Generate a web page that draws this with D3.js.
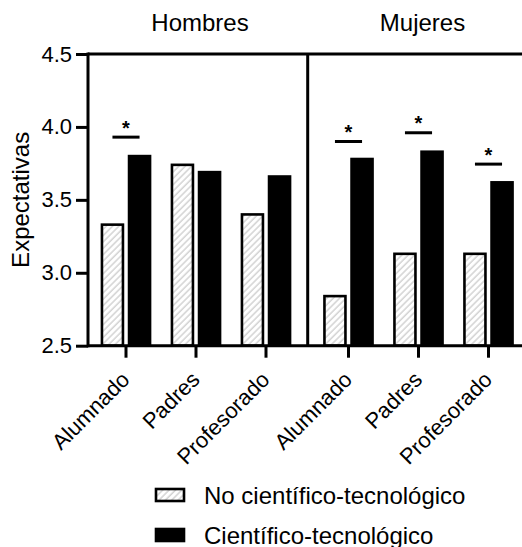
<!doctype html>
<html>
  <head>
    <meta charset="utf-8">
    <title>Expectativas</title>
    <script src="https://cdnjs.cloudflare.com/ajax/libs/d3/7.8.5/d3.min.js"></script>
    <style>
      body { margin: 0; background: #fff; }
      svg { display: block; font-family: Arial, "Liberation Sans", sans-serif; }
    </style>
  </head>
  <body>
    <div id="chart"></div>
    <script>
      // data
      const panels = ['Hombres', 'Mujeres'];
      const categories = ['Alumnado', 'Padres', 'Profesorado'];
      const noCientifico = [[3.33, 3.74, 3.40], [2.84, 3.13, 3.13]];
      const cientifico = [[3.80, 3.69, 3.66], [3.78, 3.83, 3.62]];
      // height of the "*" bar, null = no significant difference
      const sigLevels = [[3.93, null, null], [3.90, 3.96, 3.745]];
      const yTicks = [2.5, 3.0, 3.5, 4.0, 4.5];
      const seriesNames = ['No científico-tecnológico', 'Científico-tecnológico'];

      const width = 522, height = 547;
      const axisX = 88, divX = 307.7;
      const barW = 21, barGap = 3.5, stroke = 2.6;

      const svg = d3.select('#chart').append('svg')
        .attr('width', width)
        .attr('height', height);

      // hatch for the light bars
      svg.append('defs').append('pattern')
        .attr('id', 'hatch')
        .attr('patternUnits', 'userSpaceOnUse')
        .attr('width', 4.5)
        .attr('height', 4.5)
        .attr('patternTransform', 'rotate(45)')
        .call(p => {
          p.append('rect').attr('width', 4.5).attr('height', 4.5).attr('fill', '#fff');
          p.append('line').attr('x1', 1).attr('x2', 1).attr('y1', 0).attr('y2', 4.5)
            .attr('stroke', '#c8c8c8').attr('stroke-width', 1.2);
        });

      const y = d3.scaleLinear().domain([2.5, 4.5]).range([345.7, 54]);

      // one band scale per panel
      const xPanel = [
        d3.scaleBand().domain(categories).range([91, 301]),
        d3.scaleBand().domain(categories).range([313.5, 523.5])
      ];

      panels.forEach((name, pi) => {
        const x = xPanel[pi];
        const g = svg.append('g');
        const rows = categories.map((c, i) => ({
          cat: c,
          cx: x(c) + x.bandwidth() / 2,
          no: noCientifico[pi][i],
          si: cientifico[pi][i],
          sig: sigLevels[pi][i]
        }));

        g.selectAll('rect.no').data(rows).join('rect')
          .attr('class', 'no')
          .attr('x', d => d.cx - barGap / 2 - stroke / 2 - barW)
          .attr('y', d => y(d.no))
          .attr('width', barW)
          .attr('height', d => y(2.5) - y(d.no))
          .attr('fill', 'url(#hatch)')
          .attr('stroke', '#000')
          .attr('stroke-width', stroke);

        g.selectAll('rect.si').data(rows).join('rect')
          .attr('class', 'si')
          .attr('x', d => d.cx + barGap / 2 + stroke / 2)
          .attr('y', d => y(d.si))
          .attr('width', barW)
          .attr('height', d => y(2.5) - y(d.si))
          .attr('fill', '#000')
          .attr('stroke', '#000')
          .attr('stroke-width', stroke);

        const sig = rows.filter(d => d.sig != null);
        g.selectAll('line.sig').data(sig).join('line')
          .attr('x1', d => d.cx - barGap / 2 - stroke / 2 - barW / 2)
          .attr('x2', d => d.cx + barGap / 2 + stroke / 2 + barW / 2)
          .attr('y1', d => y(d.sig))
          .attr('y2', d => y(d.sig))
          .attr('stroke', '#000')
          .attr('stroke-width', 3);
        g.selectAll('text.star').data(sig).join('text')
          .attr('x', d => d.cx)
          .attr('y', d => y(d.sig) - 2.5)
          .attr('text-anchor', 'middle')
          .attr('font-size', 20)
          .attr('font-weight', 'bold')
          .text('*');

        // category axis
        const ax = svg.append('g')
          .attr('transform', `translate(0,${y(2.5)})`)
          .call(d3.axisBottom(x).tickSize(12).tickSizeOuter(0));
        ax.select('.domain').remove();
        ax.selectAll('.tick line').attr('stroke', '#000').attr('stroke-width', 3);
        ax.selectAll('.tick text')
          .attr('font-size', 22)
          .attr('fill', '#000')
          .attr('text-anchor', 'end')
          .attr('x', 0)
          .attr('y', 0)
          .attr('dy', 0)
          .attr('transform', `translate(5,${381 - y(2.5)}) rotate(-45)`);

        // panel title
        svg.append('text')
          .attr('x', rows[1].cx + 4)
          .attr('y', 31)
          .attr('text-anchor', 'middle')
          .attr('font-size', 24)
          .text(name);
      });

      // frame lines
      svg.append('line')
        .attr('x1', axisX).attr('x2', width)
        .attr('y1', y(2.5)).attr('y2', y(2.5))
        .attr('stroke', '#000').attr('stroke-width', 3);
      svg.append('line')
        .attr('x1', axisX).attr('x2', width)
        .attr('y1', y(4.5)).attr('y2', y(4.5))
        .attr('stroke', '#000').attr('stroke-width', 3);
      svg.append('line')
        .attr('x1', divX).attr('x2', divX)
        .attr('y1', y(4.5)).attr('y2', y(2.5))
        .attr('stroke', '#000').attr('stroke-width', 3);

      // y axis
      const yAx = svg.append('g')
        .attr('transform', `translate(${axisX},0)`)
        .call(d3.axisLeft(y).tickValues(yTicks).tickFormat(d3.format('.1f'))
          .tickSize(12).tickSizeOuter(0).tickPadding(4));
      yAx.select('.domain').attr('stroke', '#000').attr('stroke-width', 3)
        .attr('d', `M0,${y(4.5) - 1.5}V${y(2.5) + 1.5}`);
      yAx.selectAll('.tick line').attr('stroke', '#000').attr('stroke-width', 3);
      yAx.selectAll('.tick text').attr('font-size', 22).attr('fill', '#000');

      svg.append('text')
        .attr('transform', `translate(29,${(y(2.5) + y(4.5)) / 2}) rotate(-90)`)
        .attr('text-anchor', 'middle')
        .attr('font-size', 24)
        .text('Expectativas');

      // legend
      const legend = svg.append('g').attr('transform', 'translate(156,489)');
      const fills = ['url(#hatch)', '#000'];
      seriesNames.forEach((s, i) => {
        const row = legend.append('g').attr('transform', `translate(0,${i * 40})`);
        row.append('rect')
          .attr('width', 28).attr('height', 12)
          .attr('fill', fills[i])
          .attr('stroke', '#000').attr('stroke-width', 2.6);
        row.append('text')
          .attr('x', 48).attr('y', 15)
          .attr('font-size', 24)
          .text(s);
      });
    </script>
  </body>
</html>
